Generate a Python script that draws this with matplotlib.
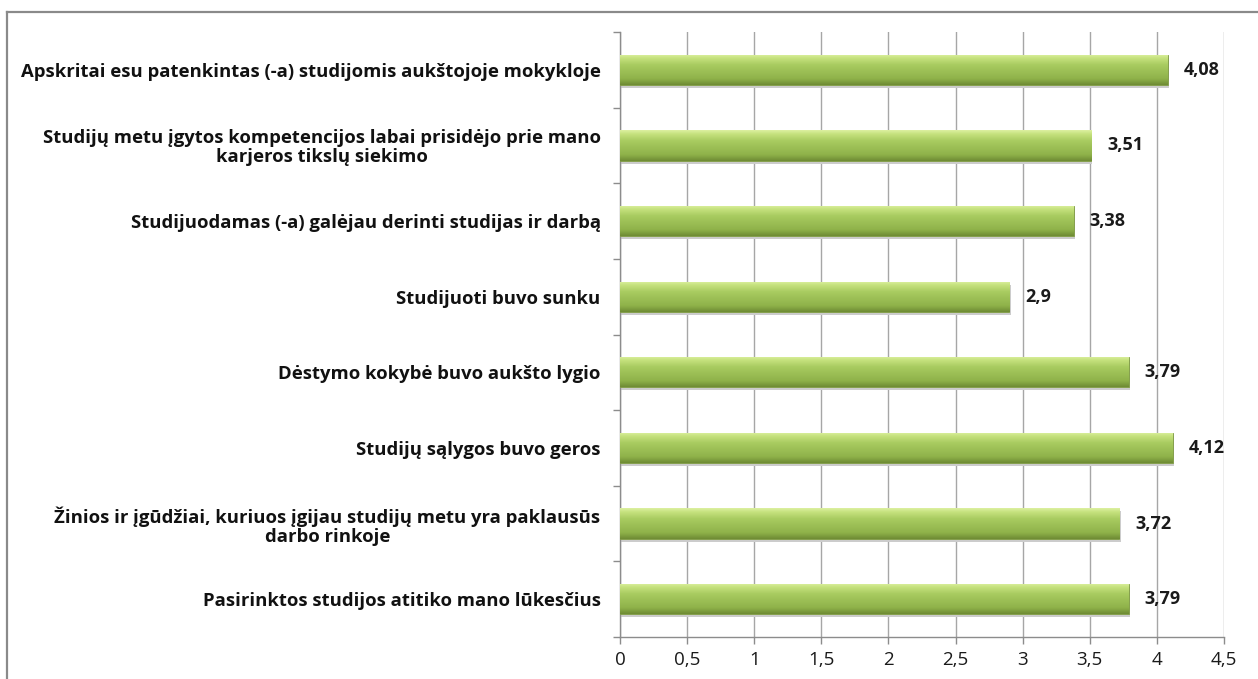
import numpy as np
import matplotlib
matplotlib.use("Agg")
import matplotlib.pyplot as plt
from matplotlib.colors import LinearSegmentedColormap
from matplotlib.lines import Line2D

plt.rcParams['font.family'] = ['Open Sans', 'DejaVu Sans']

# data, top to bottom as in the chart
labels = [
    "Apskritai esu patenkintas (-a) studijomis aukštojoje mokykloje",
    "Studijų metu įgytos kompetencijos labai prisidėjo prie mano\nkarjeros tikslų siekimo",
    "Studijuodamas (-a) galėjau derinti studijas ir darbą",
    "Studijuoti buvo sunku",
    "Dėstymo kokybė buvo aukšto lygio",
    "Studijų sąlygos buvo geros",
    "Žinios ir įgūdžiai, kuriuos įgijau studijų metu yra paklausūs\ndarbo rinkoje",
    "Pasirinktos studijos atitiko mano lūkesčius",
]
values = [4.08, 3.51, 3.38, 2.9, 3.79, 4.12, 3.72, 3.79]
xticks = [0, 0.5, 1, 1.5, 2, 2.5, 3, 3.5, 4, 4.5]
xticklabels = ["0", "0,5", "1", "1,5", "2", "2,5", "3", "3,5", "4", "4,5"]

fig = plt.figure(figsize=(12.58, 6.79), dpi=100)
ax = fig.add_axes([620/1258, 1-637/679, 604/1258, 605/679])

n = len(values)
ypos = np.arange(n)[::-1]
bh = 0.4

# green vertical gradient: light top, dark bottom
cmap = LinearSegmentedColormap.from_list(
    "grn", [(0.0, "#6f8c34"), (0.2, "#8fb24a"), (0.65, "#a8cb60"),
            (0.88, "#c6e27e"), (1.0, "#dcf0a0")])
grad = np.linspace(0, 1, 64).reshape(-1, 1)

# soft shadow
ax.barh(ypos - 0.04, values, height=bh, left=0.01, color="#cccccc",
        edgecolor="none", zorder=2)
bars = ax.barh(ypos, values, height=bh, color="#9bbb59",
               edgecolor="#7e9a43", linewidth=0.6, zorder=3)
for b in bars:
    x0, y0 = b.get_x(), b.get_y()
    w, h = b.get_width(), b.get_height()
    im = ax.imshow(grad, cmap=cmap, aspect="auto", origin="lower",
                   extent=[x0, x0 + w, y0, y0 + h], zorder=3.5)
    im.set_clip_path(b)

for y, v in zip(ypos, values):
    ax.text(v + 0.12, y, f"{v:g}".replace(".", ","), va="center", ha="left",
            fontsize=13, fontweight="bold", color="#1a1a1a", zorder=5)

ax.set_xlim(0, 4.5)
ax.set_ylim(-0.5, n - 0.5)
ax.set_xticks(xticks)
ax.set_xticklabels(xticklabels, fontsize=13.5, color="#1a1a1a")
ax.xaxis.grid(True, color="#a6a6a6", linewidth=1.0, zorder=0)
ax.set_axisbelow(True)

ax.set_yticks(ypos)
ax.set_yticklabels(labels, fontsize=13.3, fontweight="bold", color="#111111",
                   ha="right", multialignment="center", linespacing=1.05)
ax.tick_params(axis="y", length=0, pad=14)
ax.set_yticks(np.arange(-0.5, n, 1.0), minor=True)
ax.tick_params(axis="y", which="minor", length=5, color="#8c8c8c", width=1)
ax.tick_params(axis="x", length=5, color="#8c8c8c", width=1, pad=5)

for s in ["top", "right"]:
    ax.spines[s].set_visible(False)
for s in ["left", "bottom"]:
    ax.spines[s].set_color("#8c8c8c")
    ax.spines[s].set_linewidth(1.0)

# outer chart frame (cropped on the right and bottom)
fx, fy = 7/1258, 1 - 12/679
fig.add_artist(Line2D([fx, 1.0], [fy, fy], color="#8a8a8a", lw=1.6,
                      transform=fig.transFigure))
fig.add_artist(Line2D([fx, fx], [fy, 0.0], color="#8a8a8a", lw=1.6,
                      transform=fig.transFigure))

fig.savefig("out.png", dpi=100)
